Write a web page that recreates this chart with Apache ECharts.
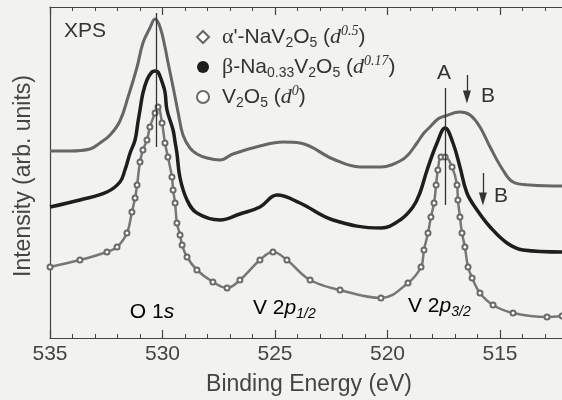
<!DOCTYPE html>
<html>
<head>
<meta charset="utf-8">
<script src="https://cdn.jsdelivr.net/npm/echarts@6/dist/echarts.min.js"></script>
<style>
    html, body { margin: 0; padding: 0; background: #f2f2f0; }
    #chart { width: 562px; height: 400px; }
</style>
</head>
<body>
<div id="chart"></div>
<script>
// α'-NaV2O5 (d^0.5)
const alphaE = [535.0, 534.11, 533.22, 532.78, 532.33, 531.89, 531.53, 531.13, 530.87, 530.56, 530.33, 530.11, 529.89, 529.76, 529.53, 529.31, 529.09, 528.78, 528.47, 528.02, 527.44, 526.87, 525.67, 524.64, 523.89, 522.42, 521.22, 520.29, 519.44, 519.09, 518.69, 518.38, 518.11, 517.76, 517.44, 516.78, 516.33, 515.89, 515.44, 514.87, 514.42, 513.67, 512.24];
const alphaI = [187, 187, 189, 195, 203, 217, 241, 271, 295, 310, 319, 311, 291, 276, 251, 226, 203, 190, 184, 180, 178, 184, 192, 196, 195, 179, 171, 171, 177, 183, 195, 205, 211, 219, 222, 226, 223, 211, 191, 168, 156, 153, 152];

// β-Na0.33V2O5 (d^0.17)
const betaE = [535.0, 533.67, 532.47, 531.89, 531.67, 531.44, 531.22, 531.09, 531.0, 530.87, 530.69, 530.47, 530.33, 530.2, 530.02, 529.89, 529.8, 529.53, 529.44, 529.36, 529.22, 528.91, 528.47, 527.44, 526.56, 525.67, 524.91, 523.89, 522.42, 520.29, 519.44, 518.87, 518.56, 518.24, 517.8, 517.44, 517.09, 516.78, 516.47, 516.02, 515.44, 514.69, 513.98, 512.24];
const betaI = [131, 138, 146, 156, 168, 185, 198, 216, 228, 245, 258, 266, 267, 266, 256, 246, 228, 208, 196, 185, 160, 138, 125, 118, 124, 131, 143, 135, 118, 110, 118, 131, 145, 168, 195, 210, 195, 171, 145, 128, 111, 95, 88, 86];

// V2O5 (d^0)
const vE = [535.0, 533.67, 532.47, 532.02, 531.58, 531.36, 531.22, 531.13, 531.0, 530.87, 530.69, 530.56, 530.33, 530.2, 530.02, 529.89, 529.76, 529.58, 529.53, 529.44, 529.36, 529.22, 529.13, 528.91, 528.47, 527.76, 527.13, 526.56, 525.67, 525.09, 524.47, 523.44, 522.11, 520.29, 519.09, 518.51, 518.38, 518.2, 518.07, 517.93, 517.84, 517.76, 517.62, 517.44, 517.13, 516.91, 516.87, 516.78, 516.69, 516.56, 516.42, 516.24, 515.89, 515.31, 514.42, 512.91, 512.24];
const vI = [71, 78, 86, 91, 105, 126, 140, 153, 176, 188, 198, 211, 225, 231, 215, 195, 181, 161, 148, 135, 115, 103, 93, 81, 68, 56, 50, 58, 78, 86, 78, 58, 48, 40, 55, 71, 88, 105, 121, 135, 153, 168, 181, 181, 171, 153, 138, 121, 105, 91, 71, 60, 45, 33, 25, 21, 22];

// vertical marker lines: [energy, from, to]
const peakLines = [[530.29, 325, 191], [517.44, 250, 133]];
// arrows B: [energy, from, tip]
const arrowsB = [[516.47, 263, 241], [515.76, 165, 139]];

const legendText = {
    alpha: "{g|α}{t|'-NaV}{s|2}{t|O}{s|5}{t| (}{i|d}{u|0.5}{t|)}",
    beta: "{g|β}{t|-Na}{s|0.33}{t|V}{s|2}{t|O}{s|5}{t| (}{i|d}{u|0.17}{t|)}",
    v2o5: "{t|V}{s|2}{t|O}{s|5}{t| (}{i|d}{u|0}{t|)}"
};

const sans = 'Liberation Sans';
const serif = 'Liberation Serif';
const ink = '#333';
const rich = {
    t: { fontFamily: sans, fontSize: 21, color: ink, lineHeight: 26 },
    g: { fontFamily: serif, fontSize: 22, color: ink, lineHeight: 26 },
    i: { fontFamily: serif, fontStyle: 'italic', fontSize: 22, color: ink, lineHeight: 26 },
    ip: { fontFamily: sans, fontStyle: 'italic', fontSize: 21, color: ink, lineHeight: 26 },
    s: { fontFamily: sans, fontSize: 14, color: ink, lineHeight: 14, verticalAlign: 'bottom' },
    si: { fontFamily: sans, fontStyle: 'italic', fontSize: 14, color: ink, lineHeight: 14, verticalAlign: 'bottom' },
    u: { fontFamily: serif, fontStyle: 'italic', fontSize: 14, color: ink, lineHeight: 14, verticalAlign: 'top' }
};

const toPairs = (xs, ys) => xs.map((x, i) => [x, ys[i]]);

const markLines = [
    ...peakLines.map(([e, a, b]) => [{ coord: [e, a], symbol: 'none' }, { coord: [e, b], symbol: 'none' }]),
    ...arrowsB.map(([e, a, b]) => [{ coord: [e, a], symbol: 'none' }, { coord: [e, b], symbol: 'triangle', symbolSize: [8, 13] }])
];

const xCommon = {
    type: 'value',
    min: 510,
    max: 535,
    interval: 5,
    inverse: true,
    axisLine: { lineStyle: { color: '#444', width: 1.2 } },
    axisTick: { inside: true, length: 8, lineStyle: { color: '#444', width: 1.2 } },
    minorTick: { show: true, splitNumber: 5, length: 4, lineStyle: { color: '#444', width: 1 } },
    splitLine: { show: false }
};

const chart = echarts.init(document.getElementById('chart'));
chart.setOption({
    backgroundColor: '#f2f2f0',
    animation: false,
    // the axis runs on past the right edge of the picture, like the cropped figure
    grid: { left: 50, top: 7, bottom: 62, right: -50.5, outerBoundsMode: 'none', containLabel: false },
    xAxis: [
        {
            ...xCommon,
            position: 'bottom',
            axisLabel: { fontFamily: sans, fontSize: 21, color: '#444', margin: 6 }
        },
        {
            ...xCommon,
            position: 'top',
            axisLabel: { show: false }
        }
    ],
    yAxis: {
        type: 'value',
        min: 0,
        max: 331,
        axisLine: { show: true, lineStyle: { color: '#444', width: 1.2 } },
        axisTick: { show: false },
        axisLabel: { show: false },
        splitLine: { show: false }
    },
    legend: {
        orient: 'vertical',
        left: 191,
        top: 19,
        itemWidth: 12,
        itemHeight: 12,
        itemGap: 4,
        selectedMode: false,
        data: [
            { name: 'alpha', icon: 'emptyDiamond' },
            { name: 'beta', icon: 'circle' },
            { name: 'v2o5', icon: 'emptyCircle' }
        ],
        formatter: name => legendText[name],
        textStyle: { padding: [0, 0, 0, 8], rich: rich }
    },
    series: [
        {
            name: 'alpha',
            type: 'line',
            data: toPairs(alphaE, alphaI),
            smooth: 0.4,
            showSymbol: false,
            color: '#666',
            lineStyle: { color: '#666', width: 3 }
        },
        {
            name: 'beta',
            type: 'line',
            data: toPairs(betaE, betaI),
            smooth: 0.4,
            showSymbol: false,
            color: '#1e1e1e',
            lineStyle: { color: '#1e1e1e', width: 3.5 },
            markLine: {
                silent: true,
                symbol: 'none',
                label: { show: false },
                lineStyle: { color: '#333', width: 1.3, type: 'solid' },
                emphasis: { disabled: true },
                data: markLines
            }
        },
        {
            name: 'v2o5',
            type: 'line',
            data: toPairs(vE, vI),
            smooth: 0.4,
            showSymbol: true,
            symbol: 'emptyCircle',
            symbolSize: 5,
            color: '#6a6a6a',
            lineStyle: { color: '#777', width: 2.5 }
        }
    ],
    graphic: [
        { type: 'text', x: 309, y: 385, style: { text: 'Binding Energy (eV)', font: `23px "${sans}"`, fill: '#444', align: 'center', verticalAlign: 'middle' } },
        { type: 'text', x: 24, y: 176, rotation: Math.PI / 2, style: { text: 'Intensity (arb. units)', font: `23px "${sans}"`, fill: '#444', align: 'center', verticalAlign: 'middle' } },
        { type: 'text', x: 64, y: 31, style: { text: 'XPS', font: `21px "${sans}"`, fill: ink, verticalAlign: 'middle' } },
        { type: 'text', x: 444, y: 73, style: { text: 'A', font: `21px "${sans}"`, fill: ink, align: 'center', verticalAlign: 'middle' } },
        { type: 'text', x: 488, y: 96, style: { text: 'B', font: `21px "${sans}"`, fill: ink, align: 'center', verticalAlign: 'middle' } },
        { type: 'text', x: 501, y: 196, style: { text: 'B', font: `21px "${sans}"`, fill: ink, align: 'center', verticalAlign: 'middle' } },
        { type: 'text', x: 152, y: 312, style: { text: '{t|O 1}{ip|s}', rich: rich, align: 'center', verticalAlign: 'middle' } },
        { type: 'text', x: 253, y: 308, style: { text: '{t|V 2}{ip|p}{si|1/2}', rich: rich, verticalAlign: 'middle' } },
        { type: 'text', x: 408, y: 306, style: { text: '{t|V 2}{ip|p}{si|3/2}', rich: rich, verticalAlign: 'middle' } }
    ]
});
</script>
</body>
</html>
